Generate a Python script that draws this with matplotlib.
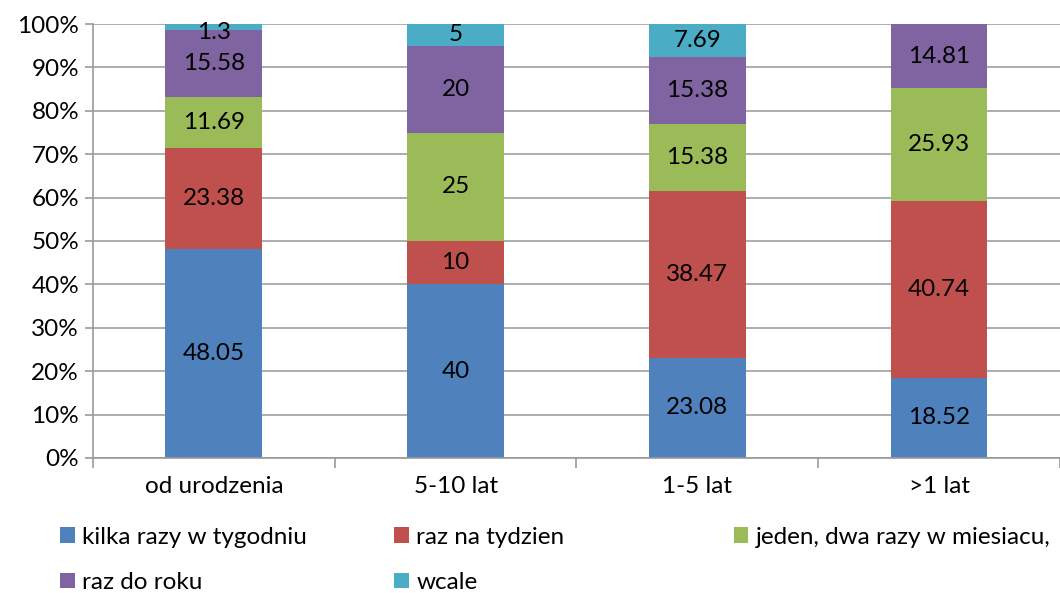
import numpy as np
import matplotlib.pyplot as plt
from matplotlib.patches import Patch

plt.rcParams['font.family'] = ['Lato', 'DejaVu Sans']

categories = ["od urodzenia", "5-10 lat", "1-5 lat", ">1 lat"]
series_names = ["kilka razy w tygodniu", "raz na tydzien", "jeden, dwa razy w miesiacu,",
                "raz do roku", "wcale"]
kilka = [48.05, 40, 23.08, 18.52]
raz_tydzien = [23.38, 10, 38.47, 40.74]
jeden_dwa = [11.69, 25, 15.38, 25.93]
raz_rok = [15.58, 20, 15.38, 14.81]
wcale = [1.3, 5, 7.69, 0]
colors = ["#4F81BD", "#C0504D", "#9BBB59", "#8064A2", "#4BACC6"]

series = [kilka, raz_tydzien, jeden_dwa, raz_rok, wcale]
FS = 17.5

fig = plt.figure(figsize=(10.6, 5.93), dpi=100)
ax = fig.add_axes([0.0877, 0.2277, 0.9123, 0.7318])

x = np.arange(len(categories))
bottom = np.zeros(len(categories))
for vals, col in zip(series, colors):
    vals = np.array(vals, dtype=float)
    ax.bar(x, vals, width=0.4, bottom=bottom, color=col, zorder=2)
    for xi, b, v in zip(x, bottom, vals):
        if v <= 0:
            continue
        yl = b + v / 2
        if v < 3:
            yl = b + v / 2 - 1.2
        ax.text(xi, yl, f"{v:g}", ha="center", va="center", fontsize=FS, color="black", zorder=3)
    bottom += vals

ax.set_xlim(-0.5, 3.5)
ax.set_ylim(0, 100)
ax.set_yticks(np.arange(0, 101, 10))
ax.set_yticklabels([f"{t}%" for t in range(0, 101, 10)], fontsize=FS)
ax.yaxis.grid(True, color="#a0a0a0", linewidth=1.2, zorder=0)
ax.set_axisbelow(True)

ax.set_xticks(x)
ax.set_xticklabels(categories, fontsize=FS)
ax.tick_params(axis="x", which="major", length=0, pad=13)
ax.set_xticks(np.arange(-0.5, 4, 1), minor=True)
ax.tick_params(axis="x", which="minor", length=7, width=1.2, color="#999999", direction="out")
ax.tick_params(axis="y", length=6, width=1.2, color="#999999", direction="out", pad=4)

for s in ["top", "right"]:
    ax.spines[s].set_visible(False)
ax.spines["left"].set_color("#999999")
ax.spines["left"].set_linewidth(1.2)
ax.spines["bottom"].set_color("#999999")
ax.spines["bottom"].set_linewidth(1.2)

handles = [Patch(facecolor=c, edgecolor="none") for c in colors]
leg_kw = dict(frameon=False, fontsize=FS, handlelength=0.6, handleheight=0.6,
              handletextpad=0.3, labelspacing=1.0, borderpad=0, borderaxespad=0,
              loc="upper left")
columns = [([0, 3], 0.057), ([1, 4], 0.372), ([2], 0.692)]
for idx, xpos in columns:
    fig.legend([handles[i] for i in idx], [series_names[i] for i in idx],
               bbox_to_anchor=(xpos, 0.112), **leg_kw)

fig.savefig("out.png", dpi=100)
